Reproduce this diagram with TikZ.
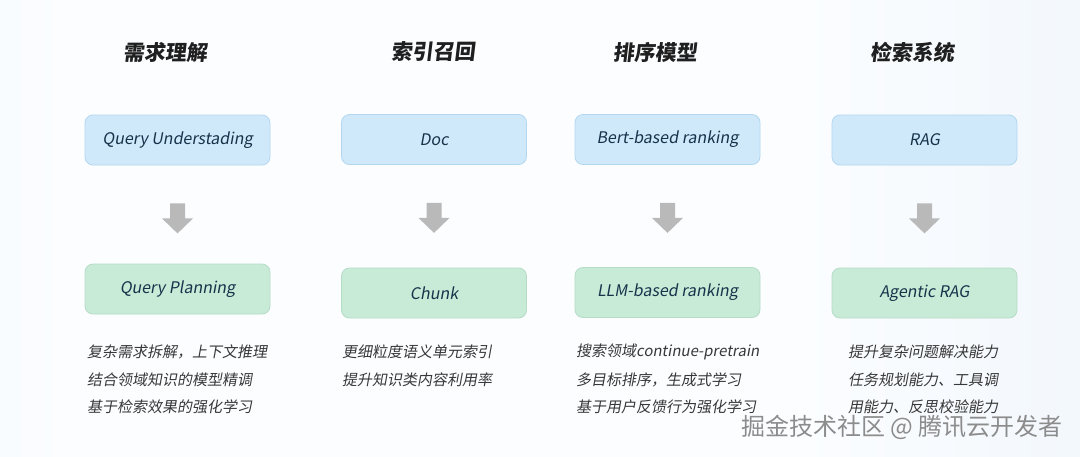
\documentclass[tikz,border=0pt]{standalone}
\usepackage{fontspec}
\usetikzlibrary{calc}
\setmainfont{Noto Sans CJK SC}[FakeSlant=0.18, BoldFeatures={FakeSlant=0.15}]
\newfontfamily\hfont{Noto Sans CJK SC}[FakeSlant=0.12, BoldFeatures={FakeSlant=0.12}]
\newfontfamily\wmfont{Noto Sans CJK SC}
\definecolor{bgL}{HTML}{E6EFF8}
\definecolor{bgM}{HTML}{FBFDFF}
\definecolor{bgR}{HTML}{E3EDF7}
\definecolor{boxblue}{HTML}{CFE9FA}
\definecolor{boxblueline}{HTML}{B3D7EF}
\definecolor{boxgreen}{HTML}{C8EBD8}
\definecolor{boxgreenline}{HTML}{B6DCC6}
\definecolor{boxtext}{HTML}{17334A}
\definecolor{desctext}{HTML}{383838}
\definecolor{arrowgray}{HTML}{B9B9B9}
\definecolor{wmgray}{HTML}{8C8C8C}
\pgfdeclarehorizontalshading{bgshade}{100bp}{color(0bp)=(bgL); color(28bp)=(bgM); color(62bp)=(bgM); color(100bp)=(bgR)}
\begin{document}
\begin{tikzpicture}[x=1pt,y=-1pt,
  topbox/.style={draw=boxblueline, fill=boxblue, rounded corners=8pt, line width=0.8pt,
    minimum width=185pt, minimum height=50pt, text=boxtext, inner sep=0pt,
    font=\fontsize{16}{16}\selectfont},
  botbox/.style={topbox, draw=boxgreenline, fill=boxgreen},
  heading/.style={font=\hfont\bfseries\fontsize{21}{21}\selectfont, text=black!88},
  desc/.style={anchor=west, inner sep=0pt, text=desctext, font=\fontsize{15}{15}\selectfont},
  blockarrow/.style={fill=arrowgray}
]
\useasboundingbox (0,0) rectangle (1080,456);
\shade[shading=bgshade] (0,0) rectangle (1080,456);

% headings
\node[heading] (h1) at (165,52) {需求理解};
\node[heading] (h2) at (433,52) {索引召回};
\node[heading] (h3) at (655,52) {排序模型};
\node[heading] (h4) at (912,52) {检索系统};

% top boxes
\node[topbox] (t1) at (177.5,140) {Query Understading};
\node[topbox] (t2) at (434,139.5) {Doc};
\node[topbox] (t3) at (667.5,139.5) {Bert-based ranking};
\node[topbox] (t4) at (924.5,140) {RAG};

% bottom boxes
\node[botbox] (b1) at (177.5,289) {Query Planning};
\node[botbox] (b2) at (434,293) {Chunk};
\node[botbox] (b3) at (667.5,292.5) {LLM-based ranking};
\node[botbox] (b4) at (924.5,293) {Agentic RAG};

% block arrows
\foreach \i in {1,...,4}{
  \fill[blockarrow] ($(t\i.south)+(-7.5,38)$) -- ($(t\i.south)+(7.5,38)$)
    -- ($(t\i.south)+(7.5,53)$) -- ($(t\i.south)+(15.5,53)$)
    -- ($(t\i.south)+(0,68)$) -- ($(t\i.south)+(-15.5,53)$)
    -- ($(t\i.south)+(-7.5,53)$) -- cycle;
}

% descriptions
\node[desc] (d11) at (87,352) {复杂需求拆解，上下文推理};
\node[desc] (d12) at (87,380) {结合领域知识的模型精调};
\node[desc] (d13) at (87,407) {基于检索效果的强化学习};

\node[desc] (d21) at (342,352) {更细粒度语义单元索引};
\node[desc] (d22) at (342,380) {提升知识类内容利用率};

\node[desc] (d31) at (576,352) {搜索领域continue-pretrain};
\node[desc] (d32) at (576,380) {多目标排序，生成式学习};
\node[desc] (d33) at (576,407) {基于用户反馈行为强化学习};

\node[desc] (d41) at (848,352) {提升复杂问题解决能力};
\node[desc] (d42) at (848,380) {任务规划能力、工具调};
\node[desc] (d43) at (848,407) {用能力、反思校验能力};

% watermark
\node[anchor=east, inner sep=0pt, text=wmgray, font=\wmfont\fontsize{24}{24}\selectfont] (wm) at (1063,427) {掘金技术社区 @ 腾讯云开发者};
\end{tikzpicture}
\end{document}
